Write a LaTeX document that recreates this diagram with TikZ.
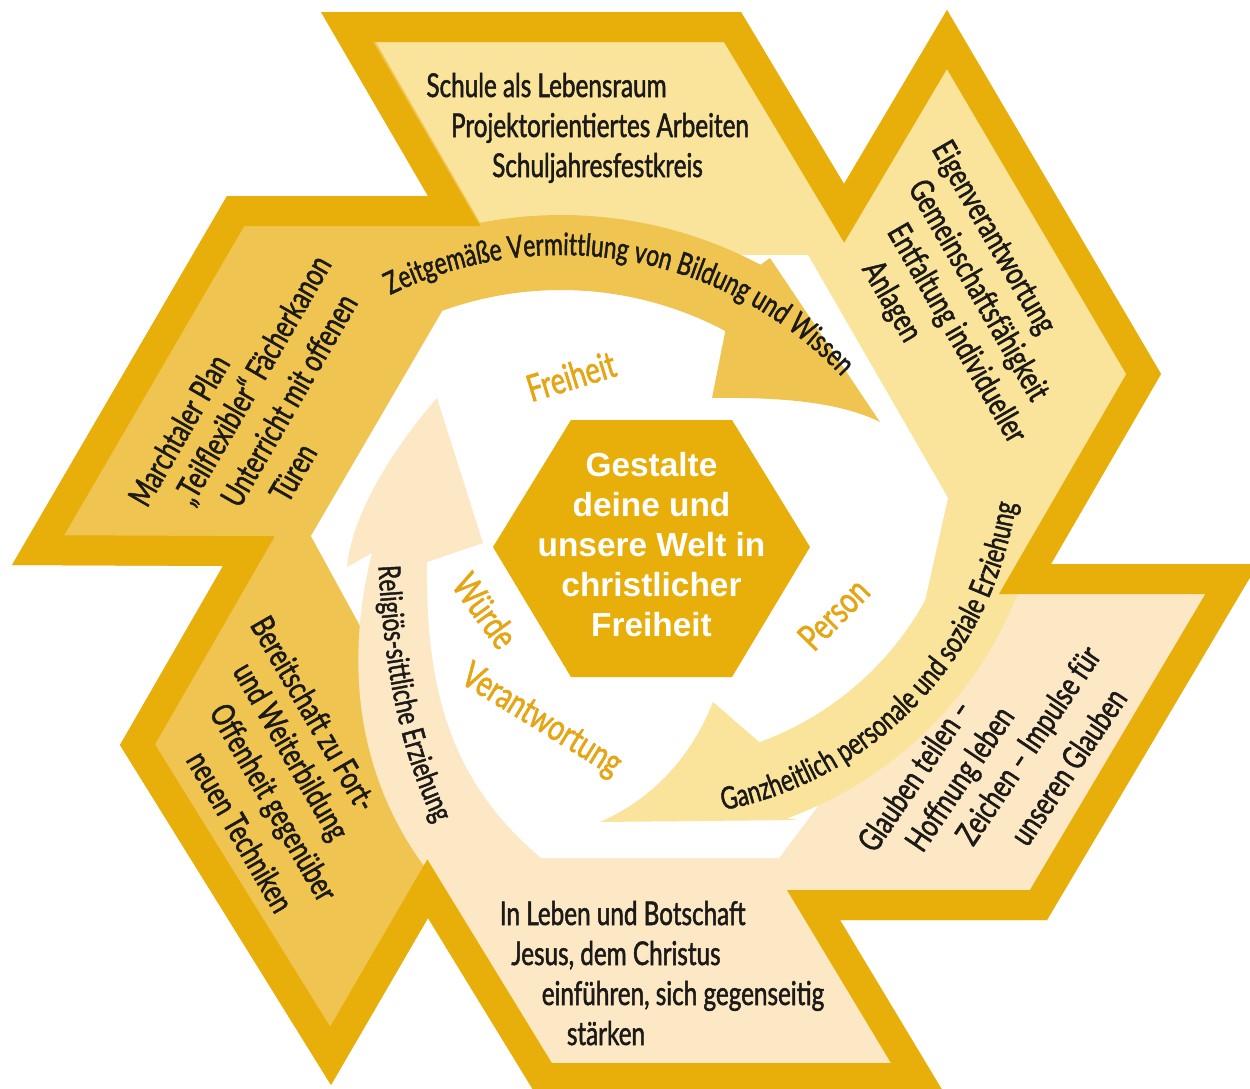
\documentclass[tikz,border=0pt]{standalone}
\usepackage{fontspec}
\usetikzlibrary{calc,decorations.text}
\newfontfamily\cf{Lato}[FakeStretch=0.74,FakeBold=1.5]
\newfontfamily\hf{Liberation Sans}
\definecolor{gborder}{HTML}{E8AE0A}
\definecolor{fillA}{HTML}{EFC450}
\definecolor{fillB}{HTML}{FAE39B}
\definecolor{fillC}{HTML}{FDE8C6}
\definecolor{lab}{HTML}{E6A514}
\definecolor{ink}{HTML}{1C1A17}
\newcommand\boxfont{\cf\fontsize{16.4}{20}\selectfont}
\newcommand\arcfontA{\cf\fontsize{15.4}{19}\selectfont}
\newcommand\arcfontB{\cf\fontsize{15.5}{19}\selectfont}
\newcommand\arcfontC{\cf\fontsize{15.2}{18}\selectfont}
\begin{document}
\begin{tikzpicture}[x=0.5pt,y=-0.5pt,
  boxtxt/.style={font=\boxfont, text=ink, inner sep=0pt},
  labtxt/.style={font=\cf\fontsize{18.5}{22}\selectfont, text=lab, inner sep=0pt},
  ctxt/.style={font=\hf\bfseries\fontsize{16.7}{20}\selectfont, text=white, align=center, inner sep=0pt}]
\useasboundingbox (0,0) rectangle (1250,1089);
\clip (0,0) rectangle (1250,1089);
\def\outerpath{(321,12) -- (741,12) -- (844,184) -- (947,10) -- (1161,374) -- (1051,564) -- (1258,564) -- (1047,920) -- (840,920) -- (944,1093) -- (535,1093) -- (428,918) -- (331,1085) -- (120,745) -- (223,566) -- (12,565) -- (227,196) -- (428,196) -- cycle}
% segment fills
\begin{scope}
\clip \outerpath;
\fill[fillA] (0,0) rectangle (1300,1100);
\fill[fillB] (482,226) -- (340,-20) -- (1400,-20) -- (1051,564) -- (996,595) -- (880,600) -- (560,500) -- (499,255) -- cycle;
\fill[fillC] (1051,564) -- (1300,564) -- (1300,1100) -- (400,1100) -- (428,918) -- (428,858) -- (410,810) -- (392,740) -- (385,700) -- (600,600) -- (880,600) -- (996,595) -- cycle;
\end{scope}
% white interior
\fill[white] (475,255) -- (808,255) -- (948,498) -- (905,690) -- (779,858) -- (487,858) -- (311,536) -- cycle;
% arrow 1
\fill[fillA] plot[domain=-126:-62, samples=40] ({561+425*cos(\x)},{640+425*sin(\x)}) -- (770,258) -- (880,422) .. controls (840,402) and (780,397) .. (712,398) -- plot[domain=0:1, samples=40] ({561+350*cos(-62-64*\x)},{640+350*sin(-62-64*\x)}) -- cycle;
% arrow 2
\fill[fillB] plot[domain=-4:70, samples=40] ({653+392*cos(\x)},{450+392*sin(\x)}) -- (798,820) -- (600,822) .. controls (650,800) and (690,760) .. (713,702) -- plot[domain=0:1, samples=40] ({653+311*cos(70-74*\x)},{450+311*sin(70-74*\x)}) -- cycle;
% arrow 3
\fill[fillC] (437,398) .. controls (400,440) and (352,510) .. (347,567) -- (372,553) .. controls (345,660) and (352,790) .. (448,895) -- (570,880) .. controls (455,800) and (425,700) .. (427,562) -- (483,543) -- cycle;
% outer border
\begin{scope}
\clip \outerpath;
\draw[gborder, line width=30pt, line join=miter] \outerpath;
\end{scope}
% centre hexagon
\fill[gborder] (493,547) -- (571,420) -- (732,420) -- (810,547) -- (732,677) -- (571,677) -- cycle;
\node[ctxt] (ct) at (651.5,545) {Gestalte\\deine und\\unsere Welt in\\christlicher\\Freiheit};
% arc texts
\path[decorate, decoration={text along path, text align=center, text={|\arcfontA\color{ink}|Zeitgemäße Vermittlung von Bildung und Wissen}}] plot[domain=-125:-34.5, samples=80] ({561+385*cos(\x)},{640+385*sin(\x)});
\path[decorate, decoration={text along path, text align=center, text={|\arcfontB\color{ink}|Ganzheitlich personale und soziale Erziehung}}] plot[domain=0:1, samples=80] ({653+367*cos(90-92.7*\x)},{450+367*sin(90-92.7*\x)});
\path[decorate, decoration={text along path, text align=center, text={|\arcfontC\color{ink}|Religiös-sittliche Erziehung}}] (377,530) .. controls (380,640) and (394,760) .. (452,855);
% labels
\node[labtxt, rotate=17] (lf) at (571,376) {Freiheit};
\node[labtxt, rotate=45.5] (lp) at (833.5,614) {Person};
\node[labtxt, rotate=-54] (lw) at (485.5,610.5) {Würde};
\node[labtxt, rotate=-31.6] (lv) at (541,721) {Verantwortung};
% top segment
\node[boxtxt, anchor=base] (t1) at (546.5,97) {Schule als Lebensraum};
\node[boxtxt, anchor=base] (t2) at (600,137) {Projektorientiertes Arbeiten};
\node[boxtxt, anchor=base] (t3) at (597.5,177) {Schuljahresfestkreis};
% top right segment
\node[boxtxt, rotate=-60] (r1) at (993,238) {Eigenverantwortung};
\node[boxtxt, rotate=-60] (r2) at (977.5,291) {Gemeinschaftsfähigkeit};
\node[boxtxt, rotate=-60] (r3) at (956,334) {Entfaltung individueller};
\node[boxtxt, rotate=-60] (r4) at (891,302) {Anlagen};
% top left segment
\node[boxtxt, rotate=60] (l1) at (178.7,430) {Marchtaler Plan};
\node[boxtxt, rotate=60] (l2) at (253.7,380.5) {„Teilflexibler“ Fächerkanon};
\node[boxtxt, rotate=60] (l3) at (288.7,400) {Unterricht mit offenen};
\node[boxtxt, rotate=60] (l4) at (293,472.6) {Türen};
% bottom left segment
\node[boxtxt, rotate=-60] (d1) at (314.3,713.4) {Bereitschaft zu Fort-};
\node[boxtxt, rotate=-60] (d2) at (289.5,752.4) {und Weiterbildung};
\node[boxtxt, rotate=-60] (d3) at (271.7,803.5) {Offenheit gegenüber};
\node[boxtxt, rotate=-60] (d4) at (240.6,831.6) {neuen Techniken};
% bottom right segment
\node[boxtxt, rotate=56] (g1) at (914,775) {Glauben teilen –};
\node[boxtxt, rotate=56] (g2) at (961.5,780) {Hoffnung leben};
\node[boxtxt, rotate=56] (g3) at (1030,746.5) {Zeichen – Impulse für};
\node[boxtxt, rotate=56] (g4) at (1068,766.5) {unseren Glauben};
% bottom segment
\node[boxtxt, anchor=base] (b1) at (622.75,925) {In Leben und Botschaft};
\node[boxtxt, anchor=base] (b2) at (616,965) {Jesus, dem Christus};
\node[boxtxt, anchor=base] (b3) at (683,1005) {einführen, sich gegenseitig};
\node[boxtxt, anchor=base] (b4) at (606,1045) {stärken};
\end{tikzpicture}
\end{document}
